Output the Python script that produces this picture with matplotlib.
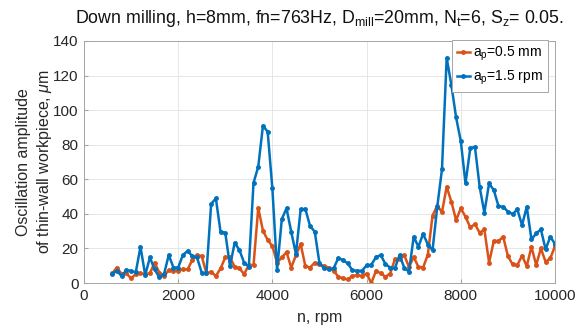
import numpy as np
import matplotlib
matplotlib.use("Agg")
import matplotlib.pyplot as plt

plt.rcParams['font.family'] = ['Liberation Sans', 'DejaVu Sans']
plt.rcParams['mathtext.fontset'] = 'custom'
plt.rcParams['mathtext.rm'] = 'Liberation Sans'
plt.rcParams['mathtext.it'] = 'Liberation Sans:italic'

# spindle speed, rpm
n_rpm = list(range(600, 10001, 100))

# a_p = 0.5 mm
amp_05 = [5.6, 9.0, 5.2, 5.6, 2.7, 5.2, 5.6, 5.2, 5.6, 11.8,
          6.0, 4.0, 7.5, 7.1, 7.1, 7.9, 7.9, 13.3, 16.2, 15.6,
          5.6, 6.6, 4.0, 8.5, 14.8, 14.8, 9.4, 8.5, 5.2, 10.4,
          10.4, 43.4, 30.3, 24.9, 21.4, 11.8, 14.8, 17.9, 9.0, 16.0,
          22.6, 9.8, 9.0, 11.8, 10.8, 9.8, 9.0, 7.1, 3.7, 2.7,
          2.1, 4.1, 4.6, 4.1, 5.5, 0.0, 7.1, 5.6, 3.7, 5.4,
          13.7, 14.0, 16.0, 9.4, 15.0, 9.4, 9.0, 16.4, 39.0, 44.8,
          41.0, 55.7, 47.0, 36.4, 43.2, 38.4, 32.2, 34.1, 29.1, 31.0,
          11.8, 24.3, 24.3, 26.8, 15.6, 10.8, 10.4, 15.8, 9.8, 21.0,
          10.4, 20.0, 12.3, 14.3, 21.4]

# a_p = 1.5
amp_15 = [5.5, 7.1, 4.0, 7.5, 7.1, 6.2, 21.0, 4.6, 14.8, 7.9,
          3.3, 5.2, 16.2, 9.0, 9.0, 16.2, 18.6, 15.6, 14.8, 6.0,
          5.6, 45.7, 49.0, 29.6, 29.1, 9.8, 23.3, 19.1, 11.8, 9.4,
          58.0, 67.3, 91.0, 87.5, 54.7, 7.5, 37.0, 43.2, 29.7, 16.8,
          42.6, 42.8, 33.0, 29.7, 11.4, 8.5, 7.9, 8.5, 14.5, 13.2,
          11.4, 7.3, 7.1, 7.1, 10.2, 10.6, 15.0, 16.2, 11.0, 9.0,
          8.5, 16.2, 8.8, 6.6, 26.8, 21.0, 28.5, 22.3, 19.0, 44.1,
          65.7, 130.3, 114.5, 95.8, 82.1, 57.6, 77.9, 78.8, 55.7, 40.7,
          57.6, 53.8, 44.5, 44.1, 41.3, 39.9, 42.6, 33.5, 44.1, 25.2,
          28.7, 31.0, 19.5, 26.8, 22.6]

fig = plt.figure(figsize=(5.83, 3.28), dpi=100)
ax = fig.add_axes([0.144, 0.137, 0.808, 0.738])

ax.plot(n_rpm, amp_05, color='#D95319', lw=1.8, marker='.', ms=5,
        label=r'a$_\mathrm{p}$=0.5 mm')
ax.plot(n_rpm, amp_15, color='#0072BD', lw=1.8, marker='.', ms=5,
        label=r'a$_\mathrm{p}$=1.5 rpm')

ax.set_xlim(0, 10000)
ax.set_ylim(0, 140)
ax.set_xticks([0, 2000, 4000, 6000, 8000, 10000])
ax.set_yticks(range(0, 141, 20))
ax.grid(True, color='#e6e6e6', lw=0.7)
ax.set_axisbelow(True)
for s in ax.spines.values():
    s.set_color('#a6a6a6')
    s.set_linewidth(0.7)
ax.tick_params(direction='in', length=3, color='#a6a6a6', labelcolor='#262626',
               labelsize=11, top=False, right=False, pad=4)

ax.set_xlabel('n, rpm', fontsize=11.5, color='#262626', labelpad=5)
ax.set_ylabel('Oscillation amplitude\nof thin-wall workpiece, $\\mu$m',
              fontsize=11.5, color='#262626', linespacing=1.3, labelpad=-1)
ax.set_title(r'Down milling, h=8mm, fn=763Hz, D$_\mathrm{mill}$=20mm, '
             r'N$_\mathrm{t}$=6, S$_\mathrm{z}$= 0.05.', fontsize=12.8, pad=13,
             color='#111111')

leg = ax.legend(loc='upper right', fontsize=10, fancybox=False, framealpha=1,
                edgecolor='#a6a6a6', borderaxespad=0.0, handlelength=0.9,
                handletextpad=0.25, labelspacing=0.4, borderpad=0.35,
                bbox_to_anchor=(0.985, 1.005))
leg.get_frame().set_linewidth(0.7)

fig.savefig('out.png', dpi=100)
